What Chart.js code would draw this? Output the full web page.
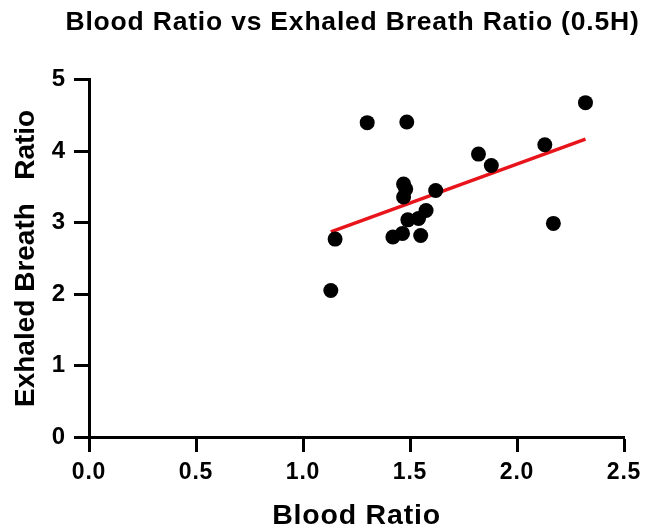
<!DOCTYPE html>
<html>
<head>
<meta charset="utf-8">
<script src="https://cdn.jsdelivr.net/npm/chart.js@4/dist/chart.umd.min.js"></script>
<style>
  html, body { margin: 0; padding: 0; background: #fff; }
  canvas { display: block; }
</style>
</head>
<body>
<canvas id="chart" width="650" height="531"></canvas>
<script>
// values
const bloodRatio  = [1.13, 1.15, 1.30, 1.485, 2.32, 2.13, 1.82, 1.88, 1.47, 1.48, 1.47, 1.62, 1.575, 1.54, 1.49, 1.465, 1.42, 1.55, 2.17];
const breathRatio = [2.05, 2.77, 4.40, 4.41, 4.68, 4.09, 3.96, 3.80, 3.54, 3.47, 3.36, 3.45, 3.17, 3.06, 3.04, 2.85, 2.80, 2.82, 2.99];
const fitX = [1.13, 2.32];
const fitY = [2.87, 4.17];
const xTickLabels = ["0.0", "0.5", "1.0", "1.5", "2.0", "2.5"];
const yTickLabels = ["0", "1", "2", "3", "4", "5"];

const fontFamily = "'Liberation Sans', Arial, sans-serif";

// the source picture is a bit stretched sideways, so horizontal text gets extra spacing.
// y axis stuff is drawn after the datasets (z: 1), where the spacing is reset.
const spacing = {
	id: "spacing",
	afterLayout(chart) {
		// title sits over the plot area but is wider than it
		const t = chart.titleBlock;
		t.left -= 44;
		t.right += 36;
		t.width = t.right - t.left;
	},
	beforeDraw(chart) { chart.ctx.letterSpacing = "0.8px"; },
	afterDatasetsDraw(chart) { chart.ctx.letterSpacing = "0px"; }
};

const points = bloodRatio.map((x, i) => ({ x: x, y: breathRatio[i] }));
const fitLine = fitX.map((x, i) => ({ x: x, y: fitY[i] }));

new Chart(document.getElementById("chart"), {
	type: "scatter",
	data: {
		datasets: [{
			data: points,
			backgroundColor: "#000",
			borderWidth: 0,
			pointRadius: 7.5,
			pointHoverRadius: 7.5
		}, {
			type: "line",
			data: fitLine,
			borderColor: "#e8141b",
			borderWidth: 3.5,
			pointRadius: 0,
			fill: false
		}]
	},
	options: {
		responsive: false,
		animation: false,
		devicePixelRatio: 1,
		layout: { padding: { left: 0, right: 26, top: 0, bottom: 0 } },
		plugins: {
			legend: { display: false },
			tooltip: { enabled: false },
			title: {
				display: true,
				fullSize: false,
				text: "Blood Ratio vs Exhaled Breath Ratio (0.5H)",
				color: "#000",
				font: { family: fontFamily, size: 26.5, weight: "bold", lineHeight: 1.2 },
				padding: { top: 7, bottom: 41 }
			}
		},
		scales: {
			x: {
				type: "linear",
				min: 0,
				max: 2.5,
				afterFit: s => { s.height = 94; },
				ticks: {
					stepSize: 0.5,
					color: "#000",
					padding: 7,
					font: { family: fontFamily, size: 23, weight: "bold" },
					callback: (v, i) => xTickLabels[i]
				},
				grid: { drawOnChartArea: false, drawTicks: true, tickLength: 15, tickWidth: 3, tickColor: "#000" },
				border: { display: true, width: 3, color: "#000" },
				title: {
					display: true,
					text: "Blood Ratio",
					color: "#000",
					font: { family: fontFamily, size: 28.5, weight: "bold", lineHeight: 1.05 },
					padding: { top: 0, bottom: 0 }
				}
			},
			y: {
				type: "linear",
				min: 0,
				max: 5,
				afterFit: s => { s.width = 89; },
				ticks: {
					stepSize: 1,
					z: 1,
					color: "#000",
					padding: 9,
					font: { family: fontFamily, size: 24, weight: "bold" },
					callback: (v, i) => yTickLabels[i]
				},
				grid: { z: 1, drawOnChartArea: false, drawTicks: true, tickLength: 15, tickWidth: 3, tickColor: "#000" },
				border: { z: 1, display: true, width: 3, color: "#000" },
				title: {
					display: true,
					text: "Exhaled Breath   Ratio",
					color: "#000",
					font: { family: fontFamily, size: 28, weight: "bold", lineHeight: 1.2 },
					padding: { top: 9, bottom: 0 }
				}
			}
		}
	},
	plugins: [spacing]
});
</script>
</body>
</html>
